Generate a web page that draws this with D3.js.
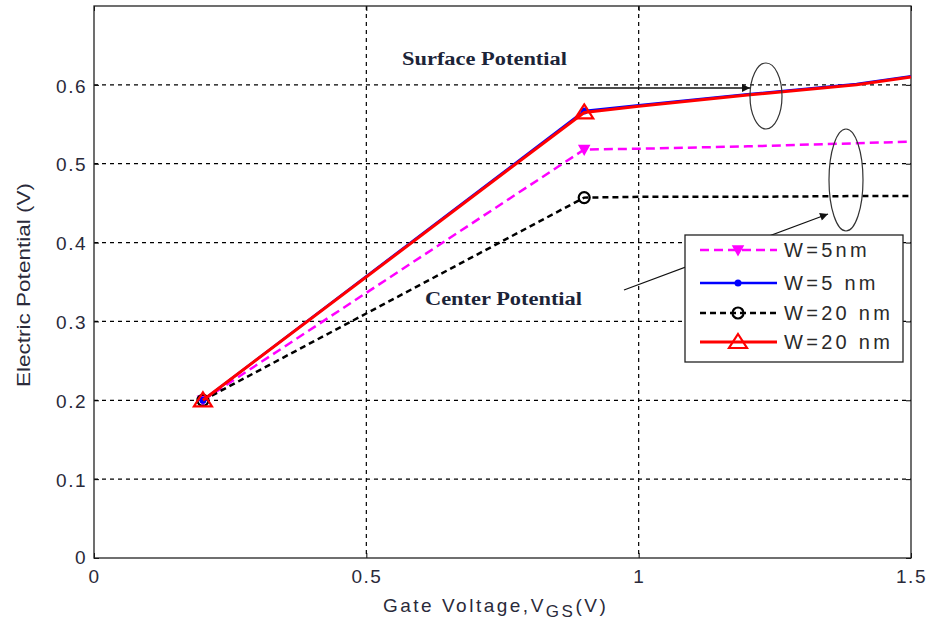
<!DOCTYPE html>
<html><head><meta charset="utf-8">
<script src="https://cdn.jsdelivr.net/npm/d3@7"></script>
<style>body{margin:0;background:#fff}svg{display:block}</style>
</head><body>
<svg id="c" width="934" height="623"></svg>
<script>
const xTicks = [0, 0.5, 1, 1.5];
const yTicks = [0, 0.1, 0.2, 0.3, 0.4, 0.5, 0.6];
const vgs = [0.2, 0.9, 1.0, 1.2, 1.4, 1.5];
const centerW5 = [0.2, 0.518, 0.519, 0.522, 0.526, 0.528];
const surfaceW5 = [0.2, 0.567, 0.574, 0.588, 0.601, 0.611];
const centerW20 = [0.2, 0.457, 0.458, 0.458, 0.459, 0.459];
const surfaceW20 = [0.2, 0.565, 0.573, 0.587, 0.600, 0.610];
const legendLabels = ["W=5nm", "W=5 nm", "W=20 nm", "W=20 nm"];

const svg = d3.select("#c");
const L = 94, R = 911, T = 6, B = 558;
const x = d3.scaleLinear().domain([0, 1.5]).range([L, R]);
const y = d3.scaleLinear().domain([0, 0.7]).range([B, T]);
const SANS = "Liberation Sans, Arial, sans-serif";
const SERIF = "Liberation Serif, Times New Roman, serif";

// grid
const g = svg.append("g");
g.selectAll(".gx").data(xTicks.filter(d => d > 0 && d < 1.5)).enter().append("line")
  .attr("x1", d => x(d)).attr("x2", d => x(d)).attr("y1", T).attr("y2", B)
  .attr("stroke", "#000").attr("stroke-width", 1.2).attr("stroke-dasharray", "4,4");
g.selectAll(".gy").data(yTicks.filter(d => d > 0)).enter().append("line")
  .attr("x1", L).attr("x2", R).attr("y1", d => y(d)).attr("y2", d => y(d))
  .attr("stroke", "#000").attr("stroke-width", 1.2).attr("stroke-dasharray", "4,4");

// axes
const fmt = d => String(d);
svg.append("g").attr("class", "xa").attr("transform", `translate(0,${B})`)
  .call(d3.axisBottom(x).tickValues(xTicks).tickFormat(fmt).tickSize(-5).tickPadding(10));
svg.append("g").attr("class", "ya").attr("transform", `translate(${L},0)`)
  .call(d3.axisLeft(y).tickValues(yTicks).tickFormat(fmt).tickSize(-5).tickPadding(7));
svg.append("g").attr("transform", `translate(0,${T})`)
  .call(d3.axisTop(x).tickValues(xTicks).tickFormat("").tickSize(-5));
svg.append("g").attr("transform", `translate(${R},0)`)
  .call(d3.axisRight(y).tickValues(yTicks).tickFormat("").tickSize(-5));
svg.selectAll(".domain").remove();
svg.selectAll(".tick line").attr("stroke", "#000");
svg.selectAll(".tick text").attr("font-family", SANS)
  .attr("font-size", 19).attr("letter-spacing", 1.5).attr("fill", "#2a2a3a");
svg.selectAll(".ya .tick text").attr("dy", "0.38em");
svg.selectAll(".ya .tick").filter(d => d === 0).select("text").attr("dy", "0.3em");
svg.selectAll(".xa .tick text").attr("dy", "0.8em");
svg.append("rect").attr("x", L).attr("y", T).attr("width", R - L).attr("height", B - T)
  .attr("fill", "none").attr("stroke", "#222").attr("stroke-width", 1.3);

// series (legend order)
const series = [
  {vals: centerW5, color: "#ff00ff", dash: "9,5", w: 2.5, marker: "tri-down-fill"},
  {vals: surfaceW5, color: "#0000ff", dash: null, w: 2.5, marker: "dot"},
  {vals: centerW20, color: "#000", dash: "6,4", w: 2.5, marker: "circle"},
  {vals: surfaceW20, color: "#ff0000", dash: null, w: 3, marker: "tri-up"}
];
const line = d3.line().x((d, i) => x(vgs[i])).y(d => y(d));
function drawMarker(sel, type, color, cx, cy) {
  if (type === "dot") sel.append("circle").attr("cx", cx).attr("cy", cy).attr("r", 3.5).attr("fill", color);
  else if (type === "circle") sel.append("circle").attr("cx", cx).attr("cy", cy).attr("r", 5.5)
    .attr("fill", "none").attr("stroke", color).attr("stroke-width", 2.2);
  else if (type === "tri-up") sel.append("path").attr("d", `M${cx},${cy-8}L${cx+9},${cy+6}L${cx-9},${cy+6}Z`)
    .attr("fill", "none").attr("stroke", color).attr("stroke-width", 2.2);
  else if (type === "tri-down-fill") sel.append("path").attr("d", `M${cx-5},${cy-4}L${cx+5},${cy-4}L${cx},${cy+5}Z`)
    .attr("fill", color).attr("stroke", color).attr("stroke-width", 1.5);
}
[0, 2, 1, 3].forEach(k => {
  const s = series[k];
  svg.append("path").datum(s.vals).attr("d", line).attr("fill", "none")
    .attr("stroke", s.color).attr("stroke-width", s.w)
    .attr("stroke-dasharray", s.dash);
  s.vals.slice(0, 2).forEach((v, i) => drawMarker(svg, s.marker, s.color, x(vgs[i]), y(v)));
});

// annotations
svg.append("defs").append("marker").attr("id", "ah2").attr("viewBox", "0 0 10 10")
  .attr("refX", 10).attr("refY", 5).attr("markerWidth", 14).attr("markerHeight", 8)
  .attr("markerUnits", "userSpaceOnUse").attr("orient", "auto")
  .append("path").attr("d", "M0,0L10,5L0,10Z").attr("fill", "#111");
const ann = svg.append("g");
ann.append("line").attr("x1", 578).attr("y1", 88).attr("x2", 750).attr("y2", 88)
  .attr("stroke", "#111").attr("stroke-width", 1.3).attr("marker-end", "url(#ah2)");
ann.append("line").attr("x1", 624).attr("y1", 290).attr("x2", 828).attr("y2", 214)
  .attr("stroke", "#111").attr("stroke-width", 1.3).attr("marker-end", "url(#ah2)");
ann.append("ellipse").attr("cx", 766).attr("cy", 96).attr("rx", 16).attr("ry", 33)
  .attr("fill", "none").attr("stroke", "#333").attr("stroke-width", 1.2);
ann.append("ellipse").attr("cx", 846).attr("cy", 180).attr("rx", 17).attr("ry", 51)
  .attr("fill", "none").attr("stroke", "#333").attr("stroke-width", 1.2);
ann.append("text").attr("x", 402).attr("y", 65)
  .attr("font-family", SERIF).attr("font-weight", "bold")
  .attr("font-size", 18).attr("fill", "#1c2438")
  .attr("textLength", 165).attr("lengthAdjust", "spacingAndGlyphs").text("Surface Potential");
ann.append("text").attr("x", 425).attr("y", 305)
  .attr("font-family", SERIF).attr("font-weight", "bold")
  .attr("font-size", 18).attr("fill", "#1c2438")
  .attr("textLength", 157).attr("lengthAdjust", "spacingAndGlyphs").text("Center Potential");

// legend
const lg = svg.append("g");
lg.append("rect").attr("x", 685).attr("y", 235).attr("width", 218).attr("height", 127)
  .attr("fill", "#fff").attr("stroke", "#222").attr("stroke-width", 1.3);
const legY = [250, 283, 313, 342];
series.forEach((s, i) => {
  lg.append("line").attr("x1", 700).attr("x2", 777).attr("y1", legY[i]).attr("y2", legY[i])
    .attr("stroke", s.color).attr("stroke-width", s.w).attr("stroke-dasharray", s.dash);
  drawMarker(lg, s.marker, s.color, 738, legY[i]);
  lg.append("text").attr("x", 784).attr("y", legY[i] + 7)
    .attr("font-family", SANS).attr("font-size", 20).attr("letter-spacing", 3.3)
    .attr("fill", "#2a2a2a").text(legendLabels[i]);
});

// axis labels
const xl = svg.append("text").attr("x", 383).attr("y", 612)
  .attr("font-family", SANS).attr("font-size", 19).attr("letter-spacing", 2.5).attr("fill", "#2a2a3a");
xl.append("tspan").text("Gate Voltage,V");
xl.append("tspan").attr("dy", 5).attr("font-size", 17).text("GS");
xl.append("tspan").attr("dy", -5).text("(V)");
svg.append("text").attr("transform", "translate(30,285) rotate(-90)").attr("text-anchor", "middle")
  .attr("font-family", SANS).attr("font-size", 18).attr("fill", "#2a2a3a")
  .attr("textLength", 204).attr("lengthAdjust", "spacingAndGlyphs")
  .text("Electric Potential (V)");
</script>
</body></html>
